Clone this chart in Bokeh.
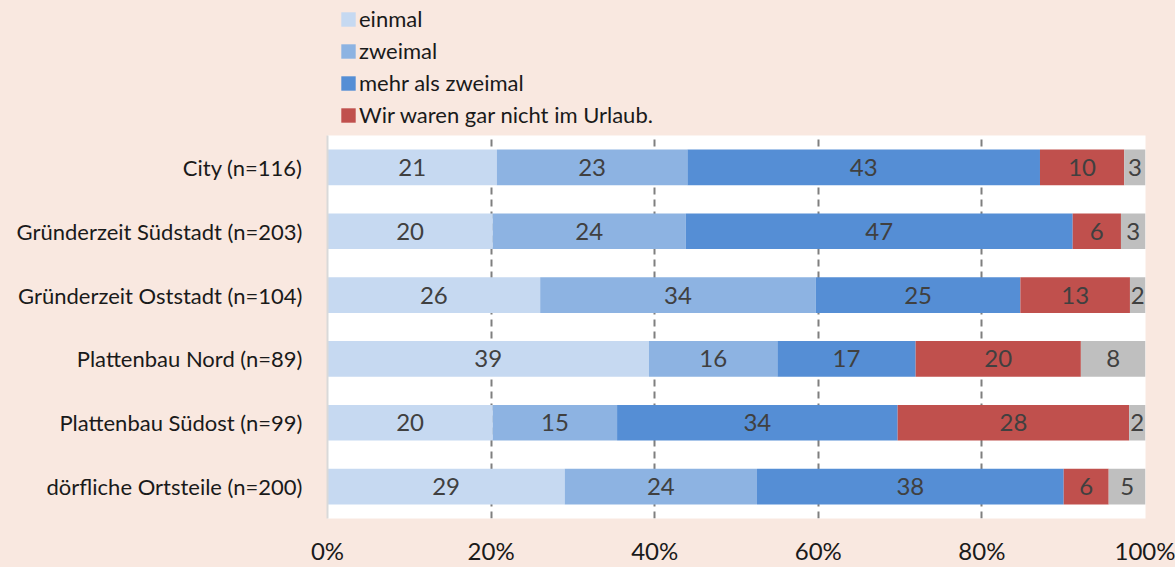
from bokeh.plotting import figure
from bokeh.layouts import column
from bokeh.models import ColumnDataSource, FactorRange, Range1d, FixedTicker, Legend, LegendItem
from bokeh.core.properties import value
from bokeh.embed import file_html
from bokeh.resources import INLINE

categories = [
    "City (n=116)",
    "Gründerzeit Südstadt (n=203)",
    "Gründerzeit Oststadt (n=104)",
    "Plattenbau Nord (n=89)",
    "Plattenbau Südost (n=99)",
    "dörfliche Ortsteile (n=200)",
]
series_names = ["einmal", "zweimal", "mehr als zweimal", "Wir waren gar nicht im Urlaub.", "keine Angabe"]
einmal = [20.7, 20.2, 26.0, 39.3, 20.2, 29.0]
zweimal = [23.3, 23.6, 33.7, 15.7, 15.2, 23.5]
mehr_als_zweimal = [43.1, 47.3, 25.0, 16.9, 34.3, 37.5]
nicht_im_urlaub = [10.3, 5.9, 13.4, 20.2, 28.3, 5.5]
keine_angabe = [2.6, 3.0, 1.9, 7.9, 2.0, 4.5]
tick_values = [0, 20, 40, 60, 80, 100]
tick_labels = ["0%", "20%", "40%", "60%", "80%", "100%"]

colors = ["#C6D9F1", "#8DB3E2", "#558ED5", "#C0504D", "#BFBFBF"]
FONT = "Lato"
BG = "#F9E8E0"
TXT = "#1a1a1a"

series = [einmal, zweimal, mehr_als_zweimal, nicht_im_urlaub, keine_angabe]
keys = ["s0", "s1", "s2", "s3", "s4"]
data = {"cat": categories}
for k, s in zip(keys, series):
    data[k] = s
source = ColumnDataSource(data)

# ---- legend strip (top) ----
top = figure(width=1175, height=135, x_range=Range1d(0, 1), y_range=Range1d(0, 1),
             output_backend="svg", toolbar_location=None,
             min_border_left=327, min_border_right=30, min_border_top=0, min_border_bottom=0)
top.axis.visible = False
top.grid.visible = False
top.outline_line_color = None
top.background_fill_color = BG
top.border_fill_color = BG
# zero-size proxies: only their legend swatches are seen
proxy = ColumnDataSource(dict(l=[0], r=[0], b=[0], t=[0]))
leg_renderers = [top.quad(left="l", right="r", bottom="b", top="t", source=proxy,
                          fill_color=c, line_color=None) for c in colors[:4]]
legend = Legend(
    items=[LegendItem(label=n, renderers=[r]) for n, r in zip(series_names[:4], leg_renderers)],
    location=(12, 7),
    orientation="vertical",
    background_fill_alpha=0, border_line_color=None,
    label_text_font=FONT, label_text_font_size="22px", label_text_color=TXT,
    glyph_width=18, glyph_height=18, label_standoff=2, spacing=5,
    padding=0, margin=0, label_height=26,
)
top.add_layout(legend, "center")

# ---- main chart ----
p = figure(
    width=1175, height=432,
    y_range=FactorRange(*reversed(categories)),
    x_range=Range1d(0, 100),
    output_backend="svg", toolbar_location=None,
    min_border_left=327, min_border_right=30, min_border_top=0, min_border_bottom=46,
)
p.background_fill_color = "white"
p.border_fill_color = BG
p.outline_line_color = None

renderers = p.hbar_stack(keys, y="cat", height=0.56, color=colors, source=source, line_color=None)

lx, ly, lt = [], [], []
for i, cat in enumerate(categories):
    left = 0.0
    for s in series:
        v = s[i]
        lx.append(left + v / 2)
        ly.append(cat)
        lt.append(str(int(v + 0.5)))
        left += v
lsrc = ColumnDataSource(dict(x=lx, y=ly, t=lt))
p.text(x="x", y="y", text="t", source=lsrc, text_align="center", text_baseline="middle",
       text_font=value(FONT), text_font_size="24px", text_color="#404040")

p.xaxis.ticker = FixedTicker(ticks=tick_values)
p.xaxis.major_label_overrides = {v: l for v, l in zip(tick_values, tick_labels)}
p.xaxis.axis_line_color = None
p.xaxis.major_tick_line_color = None
p.xaxis.minor_tick_line_color = None
p.xaxis.major_tick_out = 0
p.xaxis.major_tick_in = 0
p.xaxis.major_label_standoff = 17
p.xaxis.major_label_text_font = FONT
p.xaxis.major_label_text_font_size = "24px"
p.xaxis.major_label_text_color = TXT

p.yaxis.axis_line_color = "#D9D9D9"
p.yaxis.axis_line_width = 2
p.yaxis.major_tick_line_color = None
p.yaxis.minor_tick_line_color = None
p.yaxis.major_tick_out = 0
p.yaxis.major_tick_in = 0
p.yaxis.major_label_standoff = 25
p.yaxis.major_label_text_font = FONT
p.yaxis.major_label_text_font_size = "22px"
p.yaxis.major_label_text_color = TXT

p.ygrid.grid_line_color = None
p.xgrid.grid_line_color = "#7F7F7F"
p.xgrid.grid_line_width = 2
p.xgrid.grid_line_dash = "7 5"

layout = column(top, p, spacing=0, styles={"background-color": BG})
open("out.html", "w").write(file_html(layout, INLINE))
